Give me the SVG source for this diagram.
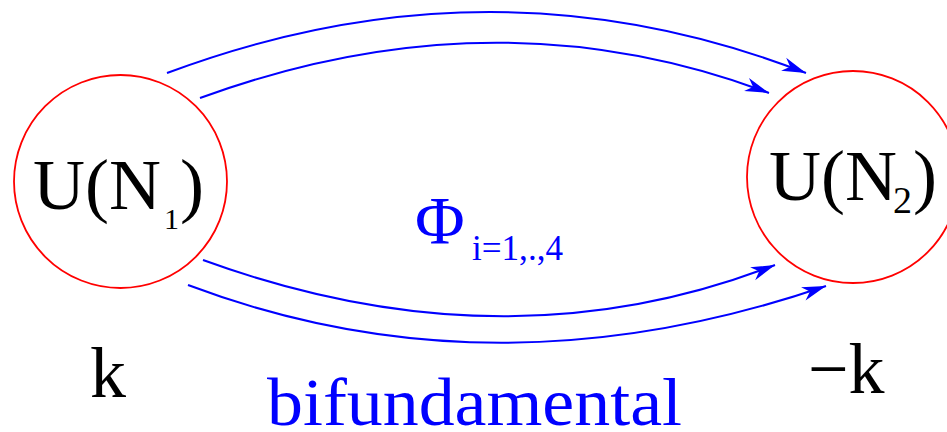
<svg xmlns="http://www.w3.org/2000/svg" width="947" height="432" viewBox="0 0 947 432">
<style>
.node{fill:none;stroke:#ff0000;stroke-width:1.8}
.edge{fill:none;stroke:#0000ff;stroke-width:2;marker-end:url(#ah)}
.t{font-family:"Liberation Serif","Times New Roman",serif;fill:#000}
.b{font-family:"Liberation Serif","Times New Roman",serif;fill:#0000ff}
</style>
<defs>
<marker id="ah" markerUnits="userSpaceOnUse" markerWidth="30" markerHeight="20" refX="0" refY="0" viewBox="-25 -10 30 20" orient="auto" overflow="visible">
<path d="M0,0 L-24,-7 L-17,0 L-24,7 z" fill="#0000ff"/>
</marker>
</defs>
<rect width="947" height="432" fill="#fff"/>
<g id="connectors">
<path class="edge" d="M167,73 Q493,-49 806,73"/>
<path class="edge" d="M200,98 Q495,-10 769,93"/>
<path class="edge" d="M203,260 Q505,370 775,265"/>
<path class="edge" d="M188,285 Q493,400 826,286"/>
</g>
<g id="node1">
<circle class="node" cx="120.5" cy="181.5" r="106.5"/>
<text class="t" y="209" font-size="72"><tspan x="33">U(N</tspan><tspan x="164" y="229" font-size="30">1</tspan><tspan x="180" y="209">)</tspan></text>
</g>
<g id="node2">
<circle class="node" cx="853" cy="177" r="106"/>
<text class="t" y="200" font-size="72"><tspan x="769">U(N</tspan><tspan x="893" y="213" font-size="38">2</tspan><tspan x="913" y="200">)</tspan></text>
</g>
<g id="labels">
<text class="b" x="415" y="243" font-size="68">Φ</text>
<text class="b" x="472" y="260" font-size="36" textLength="91" lengthAdjust="spacingAndGlyphs">i=1,.,4</text>
<text class="t" x="90" y="397" font-size="72">k</text>
<text class="t" x="808" y="393" font-size="72">−k</text>
<text class="b" x="267" y="425" font-size="68" textLength="415" lengthAdjust="spacingAndGlyphs">bifundamental</text>
</g>
</svg>
